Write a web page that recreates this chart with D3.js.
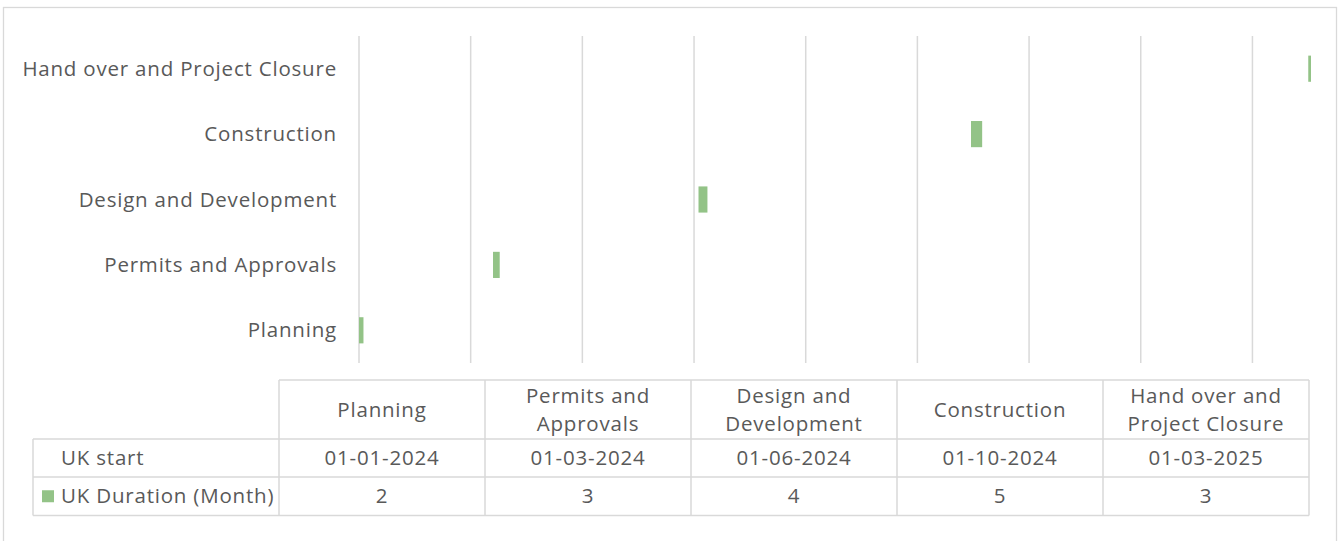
<!DOCTYPE html>
<html><head><meta charset="utf-8">
<script src="https://cdn.jsdelivr.net/npm/d3@7"></script>
<style>body{margin:0;background:#fff}svg{display:block}text{font-family:"Open Sans",sans-serif;fill:#595959;letter-spacing:0.8px}</style>
</head><body><svg id="c" width="1341" height="541"></svg>
<script>
const categories = ["Planning","Permits and Approvals","Design and Development","Construction","Hand over and Project Closure"];
const startLabels = ["01-01-2024","01-03-2024","01-06-2024","01-10-2024","01-03-2025"];
const startSerials = [45292,45352,45444,45566,45717];
const durations = [2,3,4,5,3];
const seriesNames = ["UK start","UK Duration (Month)"];
const axisMin = 45292, axisMax = 45718, majorUnit = 50;

const svg = d3.select("#c");
const fs = 20.5;
const green = "#93c387", grid = "#d9d9d9";

// chart border
svg.append("rect").attr("x",3.5).attr("y",7.5).attr("width",1333).attr("height",560)
  .attr("fill","none").attr("stroke",grid).attr("stroke-width",1.3);

const x = d3.scaleLinear().domain([axisMin, axisMax]).range([359, 1310.5]);
const y = d3.scaleBand().domain(categories.slice().reverse()).range([36, 363]);

svg.append("defs").append("clipPath").attr("id","pc").append("rect")
  .attr("x",359).attr("y",30).attr("width",1311-359).attr("height",340);

const gv = d3.range(axisMin, axisMax, majorUnit);
svg.append("g").selectAll("line").data(gv).join("line")
  .attr("x1",d=>x(d)).attr("x2",d=>x(d)).attr("y1",36).attr("y2",363)
  .attr("stroke",grid).attr("stroke-width",1.5);

const data = categories.map((c,i)=>({c, s:startSerials[i], d:durations[i]}));
const bh = y.bandwidth()*0.4;
svg.append("g").attr("clip-path","url(#pc)").selectAll("rect").data(data).join("rect")
  .attr("x",d=>x(d.s)).attr("width",d=>x(d.s+d.d)-x(d.s))
  .attr("y",d=>y(d.c)+y.bandwidth()/2-bh/2).attr("height",bh).attr("fill",green);

// category labels
svg.append("g").selectAll("text").data(categories).join("text")
  .attr("x",337).attr("y",d=>y(d)+y.bandwidth()/2).attr("dy","0.35em")
  .attr("text-anchor","end").attr("font-size",fs).text(d=>d);

// data table
const colX = d3.scaleBand().domain(categories).range([279, 1309]);
const rows = [380, 439, 477, 515.5];
const tg = svg.append("g");
const line = (x1,y1,x2,y2)=>tg.append("line").attr("x1",x1).attr("y1",y1).attr("x2",x2).attr("y2",y2)
  .attr("stroke",grid).attr("stroke-width",1.5);
line(279,rows[0],1309,rows[0]);
line(33,rows[1],1309,rows[1]);
line(33,rows[2],1309,rows[2]);
line(33,rows[3],1309,rows[3]);
line(33,rows[1],33,rows[3]);
categories.forEach(c=>line(colX(c),rows[0],colX(c),rows[3]));
line(1309,rows[0],1309,rows[3]);

// header
categories.forEach(c=>{
  const t = tg.append("text").attr("font-size",fs).attr("text-anchor","middle");
  const words = c.split(" ");
  const lines = []; let cur = [];
  const probe = tg.append("text").attr("font-size",fs);
  words.forEach(w=>{
    const test = cur.concat([w]).join(" ");
    probe.text(test);
    if (probe.node().getComputedTextLength() > 195 && cur.length){ lines.push(cur.join(" ")); cur=[w]; }
    else cur.push(w);
  });
  lines.push(cur.join(" ")); probe.remove();
  const cx = colX(c)+colX.bandwidth()/2, cy = (rows[0]+rows[1])/2, lh = 28;
  lines.forEach((l,k)=>t.append("tspan").attr("x",cx).attr("y",cy+(k-(lines.length-1)/2)*lh).attr("dy","0.35em").text(l));
});
// rows
const rowVals = [startLabels, durations];
rowVals.forEach((vals,r)=>{
  const cy = (rows[r+1]+rows[r+2])/2;
  tg.append("text").attr("x",61).attr("y",cy).attr("dy","0.35em").attr("font-size",fs).text(seriesNames[r]);
  vals.forEach((v,i)=>tg.append("text").attr("x",colX(categories[i])+colX.bandwidth()/2).attr("y",cy)
    .attr("dy","0.35em").attr("text-anchor","middle").attr("font-size",fs).text(v));
});
tg.append("rect").attr("x",42).attr("y",(rows[2]+rows[3])/2-6).attr("width",12).attr("height",12).attr("fill",green);
</script></body></html>
